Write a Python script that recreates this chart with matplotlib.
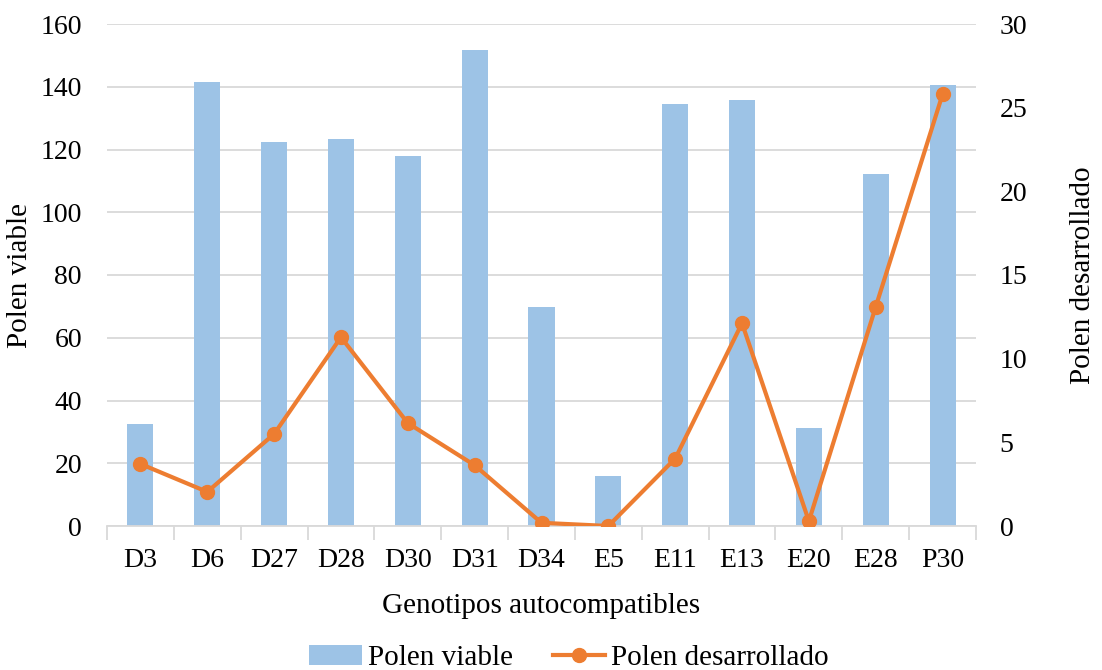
import numpy as np
import matplotlib.pyplot as plt

plt.rcParams['font.family'] = ['Liberation Serif', 'DejaVu Serif']

# genotypes and measured pollen counts
genotipos = ['D3', 'D6', 'D27', 'D28', 'D30', 'D31', 'D34', 'E5', 'E11', 'E13', 'E20', 'E28', 'P30']
polen_viable = [32.5, 141.5, 122.3, 123.2, 117.9, 151.8, 69.7, 15.8, 134.6, 135.8, 31.3, 112.2, 140.6]
polen_desarrollado = [3.71, 2.04, 5.50, 11.28, 6.15, 3.63, 0.19, 0.0, 4.03, 12.12, 0.29, 13.1, 25.8]

W, H = 1102, 670
fig = plt.figure(figsize=(W / 100, H / 100), dpi=100)
ax = fig.add_axes([107 / W, 1 - 526 / H, 869 / W, 502 / H])
ax2 = ax.twinx()

x = np.arange(len(genotipos))
bars = ax.bar(x, polen_viable, width=0.39, color='#9DC3E6', zorder=2, label='Polen viable')
line, = ax2.plot(x, polen_desarrollado, color='#ED7D31', lw=3, marker='o', ms=10,
                 zorder=3, label='Polen desarrollado')

ax.set_xlim(-0.5, len(genotipos) - 0.5)
ax.set_ylim(0, 160)
ax.set_yticks(np.arange(0, 161, 20))
ax2.set_ylim(0, 30)
ax2.set_yticks(np.arange(0, 31, 5))

ax.grid(axis='y', color='#D9D9D9', lw=1.3, zorder=0)
ax.set_axisbelow(True)

for a in (ax, ax2):
    for s in ('top', 'left', 'right'):
        a.spines[s].set_visible(False)
ax2.spines['bottom'].set_visible(False)
ax.spines['bottom'].set_color('#D9D9D9')
ax.spines['bottom'].set_linewidth(1.3)

ax.set_xticks(x)
ax.set_xticklabels(genotipos)
ax.set_xticks(np.arange(-0.5, len(genotipos), 1), minor=True)
ax.tick_params(axis='x', which='major', length=0, pad=16, labelsize=20)
ax.tick_params(axis='x', which='minor', length=10, width=1.3, color='#D9D9D9')
ax.tick_params(axis='y', length=0, pad=18, labelsize=20)
ax2.tick_params(axis='y', length=0, pad=17, labelsize=20)

ax.set_xlabel('Genotipos autocompatibles', fontsize=21, labelpad=14)
ax.set_ylabel('Polen viable', fontsize=21)
ax2.set_ylabel('Polen desarrollado', fontsize=21)
ax.yaxis.set_label_coords(-0.085, 0.5)
ax2.yaxis.set_label_coords(1.108, 0.5)

fig.legend(handles=[bars, line], loc='center', bbox_to_anchor=(569 / W, 1 - 658 / H),
           ncol=2, frameon=False, fontsize=21, handlelength=1.8, columnspacing=1.37,
           handletextpad=0.2)

fig.savefig('out.png', dpi=100)
